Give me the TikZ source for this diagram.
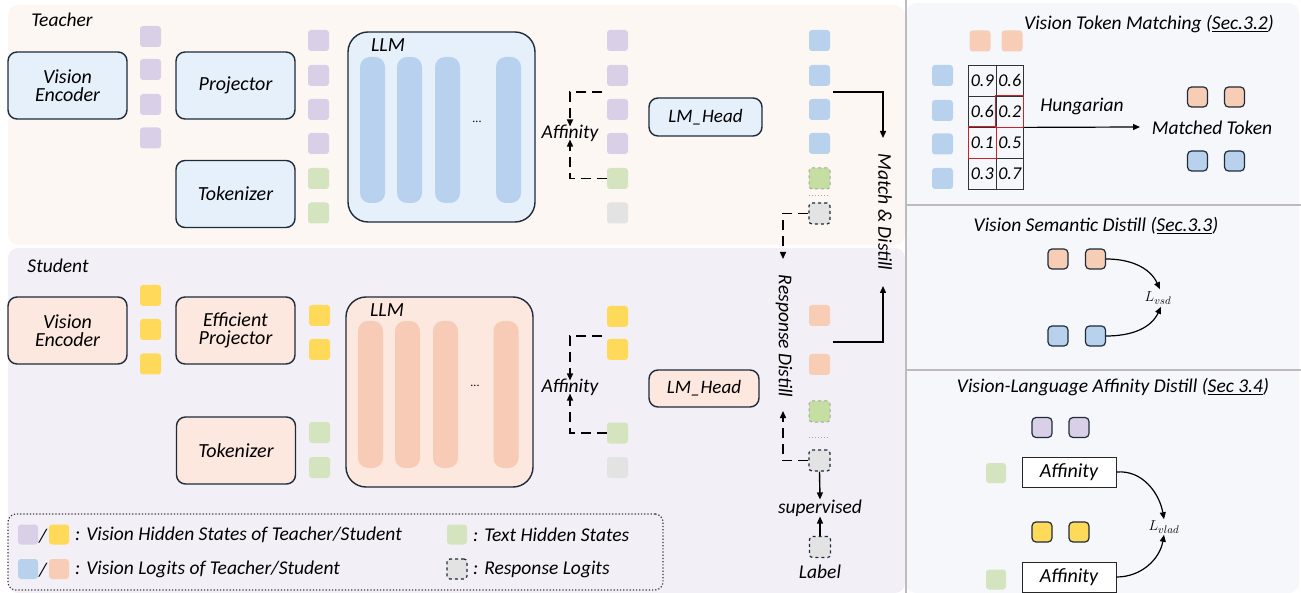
\documentclass[tikz,border=0pt]{standalone}
\usepackage{fontspec}
\setmainfont{Carlito}
\usetikzlibrary{arrows.meta,calc}

\definecolor{teachbg}{HTML}{FDF7F4}
\definecolor{studbg}{HTML}{F3EFF6}
\definecolor{panelbg}{HTML}{F6F7FB}
\definecolor{sepgray}{HTML}{BEBABD}
\definecolor{edge}{HTML}{1E2B3A}
\definecolor{tbox}{HTML}{E5F0FA}
\definecolor{sbox}{HTML}{FCE8DE}
\definecolor{tpil}{HTML}{B8D1EE}
\definecolor{spil}{HTML}{F7CBB5}
\definecolor{vpurple}{HTML}{D9D0E8}
\definecolor{vyellow}{HTML}{FFD95A}
\definecolor{tgreen}{HTML}{D3E4BE}
\definecolor{lgreen}{HTML}{C5DFA3}
\definecolor{lgray}{HTML}{E3E3E3}
\definecolor{vblue}{HTML}{B8D2EE}
\definecolor{vpeach}{HTML}{F7CDB5}
\definecolor{cellred}{HTML}{D0202A}

\tikzset{
  blk/.style={draw=edge, line width=1.4pt, rounded corners=9pt, align=center,
    font=\fontsize{20}{20}\selectfont\itshape, inner sep=0pt,
    minimum width=119pt, minimum height=67pt},
  llmbox/.style={draw=edge, line width=1.4pt, rounded corners=20pt,
    minimum width=187pt, minimum height=190pt, inner sep=0pt},
  pillar/.style={rounded corners=10pt, minimum width=25pt, inner sep=0pt},
  tok/.style={minimum size=21pt, inner sep=0pt, rounded corners=3pt},
  btok/.style={tok, draw=edge, line width=1.2pt, minimum size=20pt, rounded corners=4pt},
  glogit/.style={tok, fill=lgreen, draw=gray!70, dashed, line width=1pt},
  rlogit/.style={tok, fill=lgray, draw=edge, dashed, line width=1.2pt},
  lbl/.style={font=\fontsize{19.5}{20}\selectfont\itshape, inner sep=1pt},
  arr/.style={-{Triangle[length=7pt,width=6pt]}, line width=1.4pt},
  dsh/.style={arr, dash pattern=on 10pt off 6pt},
  sep/.style={draw=sepgray, line width=2pt},
  cell/.style={draw=black!80, line width=0.8pt, minimum width=27.5pt, minimum height=31pt,
    inner sep=0pt, font=\fontsize{18}{18}\selectfont\itshape},
  dots/.style={draw=gray!70, dotted, line width=1pt},
  crv/.style={-{Triangle[length=7pt,width=6pt]}, line width=1.2pt},
  affbox/.style={draw=black!85, line width=1pt, minimum width=94pt, minimum height=30pt,
    inner sep=0pt, font=\fontsize{20}{20}\selectfont\itshape},
}

\begin{document}
\begin{tikzpicture}[x=1pt,y=-1pt]
\useasboundingbox (0,0) rectangle (1301,593);

% backgrounds
\fill[teachbg, rounded corners=10pt] (8,5) rectangle (905,245);
\fill[studbg, rounded corners=10pt] (8,248) rectangle (905,593);
\fill[panelbg, rounded corners=10pt] (906,3) rectangle (1299,593);
\draw[sep] (906,0) -- (906,593);
\draw[sep] (906,205) -- (1301,205);
\draw[sep] (906,370) -- (1301,370);

% ---------------- Teacher ----------------
\node[lbl] (tlab) at (62,20) {Teacher};
\node[blk, fill=tbox] (tve) at (67.5,85.5) {Vision\\[-2pt]Encoder};
\node[blk, fill=tbox] (tproj) at (235.5,85.5) {Projector};
\node[blk, fill=tbox] (ttok) at (235.5,194) {Tokenizer};

\foreach \y [count=\i] in {36.5,69.5,104.5,138}
  \node[tok, fill=vpurple] (t1v\i) at (150.5,\y) {};
\foreach \y [count=\i] in {40.5,75.5,109.5,143.5}
  \node[tok, fill=vpurple] (t2v\i) at (318.5,\y) {};
\node[tok, fill=tgreen] (t2g1) at (318.5,178.5) {};
\node[tok, fill=tgreen] (t2g2) at (318.5,213) {};

\node[llmbox, fill=tbox] (tllm) at (441.5,127) {};
\node[font=\fontsize{20}{20}\selectfont\itshape] (tllmlab) at (388,45) {LLM};
\foreach \x [count=\i] in {372.5,409.5,447.5,508.5}
  \node[pillar, fill=tpil, minimum height=146pt] (tp\i) at (\x,130) {};
\node[font=\fontsize{12}{12}\selectfont] (tdots) at (477,122) {...};

\foreach \y [count=\i] in {40.5,75.5,109.5,143.5}
  \node[tok, fill=vpurple] (t3v\i) at (617.5,\y) {};
\node[tok, fill=tgreen] (t3g) at (617.5,178.5) {};
\node[tok, fill=lgray] (t3r) at (617.5,213) {};

\node[lbl] (taff) at (570,133) {Affinity};
\coordinate (taffin) at (602,92);
\draw[dsh] (taffin) -| ([yshift=-3pt]taff.north);
\draw[dsh] (t3g.west) -| ([yshift=3pt]taff.south);

\node[blk, fill=tbox, minimum width=113pt, minimum height=38pt, font=\fontsize{19}{19}\selectfont\itshape] (thead) at (705.5,117) {LM\_Head};

\foreach \y [count=\i] in {40.5,75.5,109.5,143.5}
  \node[tok, fill=vblue] (t4v\i) at (819.5,\y) {};
\node[glogit] (t4g) at (819.5,178.5) {};
\node[rlogit] (t4r) at (819.5,213.5) {};
\draw[dots] (809,196) -- (830,196);

% ---------------- Student ----------------
\node[lbl] (slab) at (58,266) {Student};
\node[blk, fill=sbox] (sve) at (67.5,330.5) {Vision\\[-2pt]Encoder};
\node[blk, fill=sbox] (sproj) at (235.5,330.5) {Efficient\\[-2pt]Projector};
\node[blk, fill=sbox] (stok) at (236,450.5) {Tokenizer};

\foreach \y [count=\i] in {295.5,329.5,364}
  \node[tok, fill=vyellow] (s1v\i) at (150.5,\y) {};
\node[tok, fill=vyellow] (s2v1) at (319.5,315.5) {};
\node[tok, fill=vyellow] (s2v2) at (319.5,349.5) {};
\node[tok, fill=tgreen] (s2g1) at (319.5,432.5) {};
\node[tok, fill=tgreen] (s2g2) at (319.5,467.5) {};

\node[llmbox, fill=sbox] (sllm) at (439.5,392) {};
\node[font=\fontsize{20}{20}\selectfont\itshape] (sllmlab) at (387,310) {LLM};
\foreach \x [count=\i] in {370.5,407.5,445.5,506}
  \node[pillar, fill=spil, minimum height=147pt] (sp\i) at (\x,394.5) {};
\node[font=\fontsize{12}{12}\selectfont] (sdots) at (475,386) {...};

\node[tok, fill=vyellow] (s3v1) at (617.5,316.5) {};
\node[tok, fill=vyellow] (s3v2) at (617.5,349.5) {};
\node[tok, fill=tgreen] (s3g) at (617.5,433) {};
\node[tok, fill=lgray] (s3r) at (617.5,467.5) {};

\node[lbl] (saff) at (570,387) {Affinity};
\coordinate (saffin) at (602,336);
\draw[dsh] (saffin) -| ([yshift=-3pt]saff.north);
\draw[dsh] (s3g.west) -| ([yshift=3pt]saff.south);

\node[blk, fill=sbox, minimum width=110pt, minimum height=37pt, font=\fontsize{19}{19}\selectfont\itshape] (shead) at (704,388.5) {LM\_Head};

\node[tok, fill=vpeach] (s4v1) at (819.5,315.5) {};
\node[tok, fill=vpeach] (s4v2) at (819.5,364.5) {};
\node[glogit] (s4g) at (819.5,411.5) {};
\node[rlogit] (s4r) at (819.5,460.5) {};
\draw[dots] (809,437) -- (830,437);

% ---------------- distillation links ----------------
\coordinate (mdstart) at (833,92);
\coordinate (mdend) at (883,138);
\draw[arr] (mdstart) -| (mdend);
\coordinate (mdsstart) at (833,342);
\coordinate (mdsend) at (883,286);
\draw[arr] (mdsstart) -| (mdsend);
\node[lbl, rotate=-90] (mdlab) at (885,212) {Match \& Distill};

\coordinate (rdtend) at (783,259);
\draw[dsh] (t4r.west) -| (rdtend);
\coordinate (rdsend) at (783,411);
\draw[dsh] (s4r.west) -| (rdsend);
\node[lbl, rotate=-90] (rdlab) at (784,336) {Response Distill};

\node[lbl] (sup) at (820,508) {supervised};
\node[rlogit] (lab) at (820,547) {};
\node[lbl] (labtxt) at (820,572) {Label};
\draw[arr] (s4r.south) -- ([yshift=-1pt]sup.north);
\draw[arr] (lab.north) -- ([yshift=1pt]sup.south);

% ---------------- legend ----------------
\node[draw=black!80, dotted, line width=1.2pt, rounded corners=8pt, minimum width=655pt,
  minimum height=76pt, inner sep=0pt] (legend) at (335.5,552) {};
\node[tok, minimum size=20pt, fill=vpurple] (lg1) at (28,534.5) {};
\node[lbl] (lgs1) at (43,536) {/};
\node[tok, minimum size=20pt, fill=vyellow] (lg2) at (59,534.5) {};
\node[lbl, anchor=west] (lgt1) at (74,534.5) {: Vision Hidden States of Teacher/Student};
\node[tok, minimum size=20pt, fill=vblue] (lg3) at (28,569) {};
\node[lbl] (lgs2) at (43,570.5) {/};
\node[tok, minimum size=20pt, fill=vpeach] (lg4) at (59,569) {};
\node[lbl, anchor=west] (lgt2) at (74,569) {: Vision Logits of Teacher/Student};
\node[tok, minimum size=20pt, fill=tgreen] (lg5) at (457,534.5) {};
\node[lbl, anchor=west] (lgt3) at (472,534.5) {: Text Hidden States};
\node[rlogit, minimum size=20pt] (lg6) at (457,569) {};
\node[lbl, anchor=west] (lgt4) at (472,569) {: Response Logits};

% ---------------- panel 1: token matching ----------------
\node[lbl] (p1t) at (1149,24) {Vision Token Matching (\underline{Sec.3.2})};
\node[tok, fill=vpeach] (p1c1) at (980,41) {};
\node[tok, fill=vpeach] (p1c2) at (1012,41) {};
\foreach \y [count=\i] in {75.5,110.5,144,178.5}
  \node[tok, fill=vblue] (p1r\i) at (942.5,\y) {};
\foreach \v/\w [count=\i] in {0.9/0.6,0.6/0.2,0.1/0.5,0.3/0.7}{
  \node[cell] (m\i a) at (982.25,{49.5+31*\i}) {\v};
  \node[cell] (m\i b) at (1009.75,{49.5+31*\i}) {\w};
}
\draw[cellred, line width=1pt] (m2b.north west) rectangle (m2b.south east);
\draw[cellred, line width=1pt] (m3a.north west) rectangle (m3a.south east);
\coordinate (hungend) at (1140,127);
\draw[-{Triangle[length=7pt,width=6pt]}, line width=1.2pt] (m2b.south east) -- (hungend);
\node[lbl] (hung) at (1082,106) {Hungarian};
\node[btok, fill=vpeach] (mt1) at (1197.5,97) {};
\node[btok, fill=vpeach] (mt2) at (1234.5,97) {};
\node[lbl] (mtl) at (1212,128) {Matched Token};
\node[btok, fill=vblue] (mt3) at (1197.5,161) {};
\node[btok, fill=vblue] (mt4) at (1234.5,161) {};

% ---------------- panel 2: semantic distill ----------------
\node[lbl] (p2t) at (1096,226) {Vision Semantic Distill (\underline{Sec.3.3})};
\node[btok, fill=vpeach] (vs1) at (1058,259) {};
\node[btok, fill=vpeach] (vs2) at (1095.5,259) {};
\node[btok, fill=vblue] (vs3) at (1058,336) {};
\node[btok, fill=vblue] (vs4) at (1095.5,336) {};
\node[font=\fontsize{15}{15}\selectfont] (lvsd) at (1158,298) {$L_{vsd}$};
\draw[crv] (vs2.east) to[out=0,in=115] ([xshift=2pt,yshift=-1pt]lvsd.north);
\draw[crv] (vs4.east) to[out=0,in=-115] ([xshift=3pt,yshift=1pt]lvsd.south);

% ---------------- panel 3: affinity distill ----------------
\node[lbl] (p3t) at (1113,387) {Vision-Language Affinity Distill (\underline{Sec 3.4})};
\node[btok, fill=vpurple] (va1) at (1042,427.5) {};
\node[btok, fill=vpurple] (va2) at (1079,427.5) {};
\node[tok, minimum size=20pt, fill=tgreen] (vag1) at (996,473) {};
\node[affbox, fill=white] (aff1) at (1069,472) {Affinity};
\node[btok, fill=vyellow] (va3) at (1042,532) {};
\node[btok, fill=vyellow] (va4) at (1079,532) {};
\node[tok, minimum size=20pt, fill=tgreen] (vag2) at (996,579.5) {};
\node[affbox, fill=white] (aff2) at (1069,577) {Affinity};
\node[font=\fontsize{15}{15}\selectfont] (lvlad) at (1164,527) {$L_{vlad}$};
\draw[crv] (aff1.east) to[out=5,in=100] ([yshift=-2pt]lvlad.north);
\draw[crv] (aff2.east) to[out=0,in=-100] ([yshift=2pt]lvlad.south);

\end{tikzpicture}
\end{document}
